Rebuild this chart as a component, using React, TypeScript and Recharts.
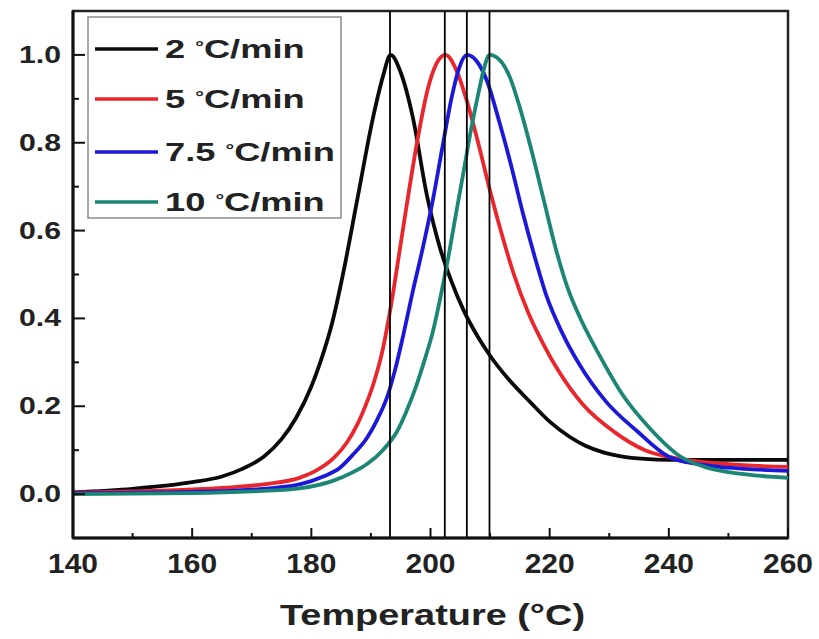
import React from "react";
import { LineChart, Line, XAxis, YAxis, ReferenceLine, ReferenceArea } from "recharts";

// ---- data ----
const rate2 = [
  { t: 140, v: 0.004 }, { t: 150, v: 0.012 }, { t: 160, v: 0.027 }, { t: 165, v: 0.04 },
  { t: 168.5, v: 0.058 }, { t: 172, v: 0.085 }, { t: 175, v: 0.125 }, { t: 177.5, v: 0.175 },
  { t: 180, v: 0.245 }, { t: 181.5, v: 0.3 }, { t: 183.5, v: 0.39 }, { t: 185.3, v: 0.5 },
  { t: 187.7, v: 0.67 }, { t: 190.4, v: 0.86 }, { t: 192, v: 0.95 }, { t: 193.3, v: 1.0 },
  { t: 195, v: 0.96 }, { t: 197, v: 0.86 }, { t: 199.4, v: 0.68 }, { t: 201.6, v: 0.56 },
  { t: 203.5, v: 0.485 }, { t: 205.5, v: 0.42 }, { t: 208, v: 0.357 }, { t: 210, v: 0.315 },
  { t: 213, v: 0.263 }, { t: 216.7, v: 0.21 }, { t: 220, v: 0.165 }, { t: 223.4, v: 0.13 },
  { t: 226, v: 0.11 }, { t: 229, v: 0.095 }, { t: 232, v: 0.086 }, { t: 236, v: 0.08 },
  { t: 240, v: 0.078 }, { t: 250, v: 0.078 }, { t: 260, v: 0.078 },
];
const rate5 = [
  { t: 140, v: 0.003 }, { t: 150, v: 0.006 }, { t: 161, v: 0.011 }, { t: 168, v: 0.017 },
  { t: 172.6, v: 0.023 }, { t: 178, v: 0.037 }, { t: 181, v: 0.055 }, { t: 183.6, v: 0.08 },
  { t: 186, v: 0.118 }, { t: 187.7, v: 0.158 }, { t: 189, v: 0.198 }, { t: 190.4, v: 0.25 },
  { t: 192, v: 0.33 }, { t: 193.5, v: 0.44 }, { t: 195, v: 0.57 }, { t: 196.5, v: 0.7 },
  { t: 198, v: 0.82 }, { t: 199.5, v: 0.92 }, { t: 201, v: 0.98 }, { t: 202.5, v: 1.0 },
  { t: 204.5, v: 0.96 }, { t: 206, v: 0.9 }, { t: 208, v: 0.8 }, { t: 210, v: 0.69 },
  { t: 212, v: 0.59 }, { t: 214, v: 0.5 }, { t: 216.5, v: 0.41 }, { t: 219, v: 0.34 },
  { t: 221.5, v: 0.28 }, { t: 225.5, v: 0.205 }, { t: 231, v: 0.14 }, { t: 236, v: 0.1 },
  { t: 242, v: 0.08 }, { t: 250, v: 0.068 }, { t: 260, v: 0.062 },
];
const rate75 = [
  { t: 140, v: 0.002 }, { t: 160, v: 0.005 }, { t: 170, v: 0.01 }, { t: 178, v: 0.022 },
  { t: 182, v: 0.04 }, { t: 184.8, v: 0.06 }, { t: 187, v: 0.09 }, { t: 189.3, v: 0.127 },
  { t: 191, v: 0.168 }, { t: 192.7, v: 0.22 }, { t: 194, v: 0.28 }, { t: 195.4, v: 0.36 },
  { t: 197, v: 0.46 }, { t: 198.7, v: 0.56 }, { t: 200.4, v: 0.67 }, { t: 202, v: 0.79 },
  { t: 203.5, v: 0.9 }, { t: 204.8, v: 0.97 }, { t: 206.1, v: 1.0 }, { t: 207.8, v: 0.985 },
  { t: 209.5, v: 0.94 }, { t: 211.5, v: 0.85 }, { t: 213.5, v: 0.75 }, { t: 215.5, v: 0.64 },
  { t: 217.5, v: 0.54 }, { t: 219.5, v: 0.45 }, { t: 222, v: 0.37 }, { t: 225, v: 0.295 },
  { t: 229.5, v: 0.21 }, { t: 234.7, v: 0.143 }, { t: 240, v: 0.085 }, { t: 245, v: 0.068 },
  { t: 250, v: 0.06 }, { t: 260, v: 0.053 },
];
const rate10 = [
  { t: 140, v: 0.0 }, { t: 160, v: 0.002 }, { t: 170, v: 0.006 }, { t: 178, v: 0.013 },
  { t: 183.6, v: 0.03 }, { t: 187, v: 0.05 }, { t: 189.3, v: 0.068 }, { t: 192, v: 0.1 },
  { t: 194.4, v: 0.143 }, { t: 196, v: 0.19 }, { t: 197.7, v: 0.25 }, { t: 199, v: 0.305 },
  { t: 200.4, v: 0.37 }, { t: 201.7, v: 0.45 }, { t: 203, v: 0.54 }, { t: 204.3, v: 0.64 },
  { t: 205.5, v: 0.73 }, { t: 206.8, v: 0.83 }, { t: 208, v: 0.91 }, { t: 209, v: 0.97 },
  { t: 209.9, v: 1.0 }, { t: 211.5, v: 0.99 }, { t: 213.3, v: 0.95 }, { t: 215, v: 0.88 },
  { t: 217, v: 0.78 }, { t: 219, v: 0.67 }, { t: 221, v: 0.56 }, { t: 223, v: 0.47 },
  { t: 225.5, v: 0.39 }, { t: 228, v: 0.325 }, { t: 232.3, v: 0.225 }, { t: 236.8, v: 0.15 },
  { t: 242, v: 0.085 }, { t: 246, v: 0.062 }, { t: 250, v: 0.05 }, { t: 255, v: 0.042 },
  { t: 260, v: 0.037 },
];
const peakTemps = [193.2, 202.4, 206.1, 209.9];
const xTicks = [140, 150, 160, 170, 180, 190, 200, 210, 220, 230, 240, 250, 260];
const yTicks = [0, 0.1, 0.2, 0.3, 0.4, 0.5, 0.6, 0.7, 0.8, 0.9, 1.0];

const seriesList = [
  { name: "2", data: rate2, color: "#0a0a0a" },
  { name: "5", data: rate5, color: "#e8262b" },
  { name: "7.5", data: rate75, color: "#1c18d8" },
  { name: "10", data: rate10, color: "#1b8576" },
];

const FONT = "'Liberation Sans', Arial, sans-serif";

const XTick = (props: any) => {
  const { x, y, payload } = props;
  const v = payload.value;
  const major = v % 20 === 0;
  return (
    <g>
      <line x1={x} x2={x} y1={y} y2={y - (major ? 10 : 5)} stroke="#111" strokeWidth={2} />
      {major && (
        <text x={x} y={y + 35} textAnchor="middle" fontFamily={FONT} fontWeight="bold"
          fontSize={27} fill="#222" textLength={50} lengthAdjust="spacingAndGlyphs">
          {String(v)}
        </text>
      )}
    </g>
  );
};

const YTick = (props: any) => {
  const { x, y, payload } = props;
  const v = payload.value;
  const major = Math.round(v * 10) % 2 === 0;
  return (
    <g>
      <line x1={x} x2={x + (major ? 12 : 6)} y1={y} y2={y} stroke="#111" strokeWidth={2} />
      {major && (
        <text x={x - 12} y={y + 8} textAnchor="end" fontFamily={FONT} fontWeight="bold"
          fontSize={23} fill="#222" textLength={42} lengthAdjust="spacingAndGlyphs">
          {v.toFixed(1)}
        </text>
      )}
    </g>
  );
};

const TitleLabel = (props: any) => {
  const vb = props.viewBox || {};
  const cx = (vb.x ?? 73) + (vb.width ?? 715) / 2 + 2;
  return (
    <text x={cx} y={625} textAnchor="middle" fontFamily={FONT} fontWeight="bold" fontSize={30}
      fill="#222" textLength={305} lengthAdjust="spacingAndGlyphs">
      Temperature (°C)
    </text>
  );
};

const LegendBox = () => {
  const rowY = [49, 99, 152, 202];
  return (
    <svg width={819} height={639} style={{ position: "absolute", left: 0, top: 0, pointerEvents: "none" }}>
      <rect x={88} y={17} width={253} height={201} fill="#fff" stroke="#8a8a8a" strokeWidth={1.5} />
      {seriesList.map((s, i) => (
        <g key={s.name}>
          <line x1={95} x2={158} y1={rowY[i]} y2={rowY[i]} stroke={s.color} strokeWidth={3.5} />
          <text transform={`translate(165, ${rowY[i] + 9}) scale(1.45, 1)`} fontFamily={FONT}
            fontWeight="bold" fontSize={25} fill="#222">
            <tspan>{s.name} </tspan>
            <tspan fontSize={15} dy={-6}>°</tspan>
            <tspan dy={6}>C/min</tspan>
          </text>
        </g>
      ))}
    </svg>
  );
};

export default function App() {
  return (
    <div style={{ position: "absolute", left: 0, top: 0, width: 819, height: 639, background: "#fff" }}>
      <LineChart width={819} height={639} margin={{ top: 11, right: 31, bottom: 0, left: 0 }}>
        <XAxis
          dataKey="t"
          type="number"
          domain={[140, 260]}
          ticks={xTicks}
          interval={0}
          allowDataOverflow
          height={101}
          tickSize={0}
          tickMargin={0}
          tick={<XTick />}
          axisLine={{ stroke: "#111", strokeWidth: 3 }}
          label={<TitleLabel />}
        />
        <YAxis
          type="number"
          domain={[-0.1, 1.1]}
          ticks={yTicks}
          interval={0}
          allowDataOverflow
          width={73}
          tickSize={0}
          tickMargin={0}
          tick={<YTick />}
          axisLine={{ stroke: "#111", strokeWidth: 3 }}
        />
        <ReferenceArea x1={140} x2={260} y1={-0.1} y2={1.1} fill="none" stroke="#222"
          strokeWidth={2.5} ifOverflow="visible" />
        {seriesList.map((s) => (
          <Line key={s.name} data={s.data} dataKey="v" type="monotone" stroke={s.color}
            strokeWidth={3.8} dot={false} activeDot={false} isAnimationActive={false} />
        ))}
        {peakTemps.map((t) => (
          <ReferenceLine key={t} x={t} stroke="#000" strokeWidth={1.8} />
        ))}
      </LineChart>
      <LegendBox />
    </div>
  );
}
